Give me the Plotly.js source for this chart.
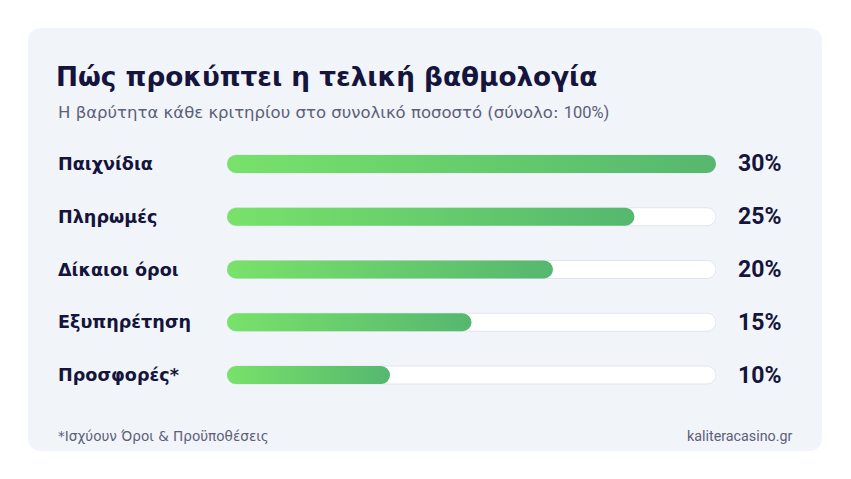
<!DOCTYPE html>
<html>
<head>
<meta charset="utf-8">
<script src="https://cdn.plot.ly/plotly-3.0.1.min.js"></script>
<style>
html,body{margin:0;padding:0;background:#ffffff;}
#chart{width:851px;height:479px;}
</style>
</head>
<body>
<div id="chart"></div>
<script>
// ---- data ----
const categories = ["Παιχνίδια", "Πληρωμές", "Δίκαιοι όροι", "Εξυπηρέτηση", "Προσφορές*"];
const weights = [30, 25, 20, 15, 10];
const trackMax = [30, 30, 30, 30, 30];
const titleText = "Πώς προκύπτει η τελική βαθμολογία";
const subtitleGreek = "Η βαρύτητα κάθε κριτηρίου στο συνολικό ποσοστό (σύνολο: ";
const subtitleLatin = "100%)";
const footnoteText = "*Ισχύουν Όροι & Προϋποθέσεις";
const sourceText = "kaliteracasino.gr";

// ---- geometry helpers (pixel -> paper) ----
const W = 851, H = 479;
const px = v => v / W;
const py = v => 1 - v / H;

function roundedRect(x0, y0, x1, y1, r) {
  const X = px, Y = py;
  return `M ${X(x0 + r)},${Y(y0)} L ${X(x1 - r)},${Y(y0)} Q ${X(x1)},${Y(y0)} ${X(x1)},${Y(y0 + r)} ` +
    `L ${X(x1)},${Y(y1 - r)} Q ${X(x1)},${Y(y1)} ${X(x1 - r)},${Y(y1)} ` +
    `L ${X(x0 + r)},${Y(y1)} Q ${X(x0)},${Y(y1)} ${X(x0)},${Y(y1 - r)} ` +
    `L ${X(x0)},${Y(y0 + r)} Q ${X(x0)},${Y(y0)} ${X(x0 + r)},${Y(y0)} Z`;
}

const navy = "#14143c";
const grey = "#5b6078";
const greekFont = "'DejaVu Sans', sans-serif";
const latinFont = "Roboto, 'Noto Sans', sans-serif";

const rowTop = 137.6, rowBottom = 401.4;
const barPx = 18;
const rowH = (rowBottom - rowTop) / categories.length;
const barWidth = barPx / rowH;

const traces = [
  {
    type: "bar", orientation: "h",
    x: trackMax, y: categories,
    width: barWidth,
    marker: {color: "#ffffff", cornerradius: 9, line: {color: "#e1e5ee", width: 1}},
    hoverinfo: "skip", showlegend: false
  },
  {
    type: "bar", orientation: "h",
    x: weights, y: categories,
    width: barWidth,
    marker: {color: "#66c96c", cornerradius: 9, line: {width: 0}},
    hoverinfo: "skip", showlegend: false
  }
];

const annotations = [];
categories.forEach((c, i) => {
  annotations.push({
    xref: "paper", yref: "y", x: px(56), y: c, xanchor: "left", yanchor: "middle",
    text: "<b>" + c + "</b>", showarrow: false,
    font: {family: greekFont, size: 17.6, color: navy}
  });
  annotations.push({
    xref: "paper", yref: "y", x: px(736), y: c, xanchor: "left", yanchor: "middle",
    text: "<b>" + weights[i] + "%</b>", showarrow: false,
    font: {family: latinFont, size: 23, color: navy}
  });
});
annotations.push({
  xref: "paper", yref: "paper", x: px(56), y: py(112), xanchor: "left", yanchor: "middle",
  text: subtitleGreek + "<span style='font-family:Roboto'>" + subtitleLatin + "</span>",
  showarrow: false, font: {family: greekFont, size: 16.5, color: grey}
});
annotations.push({
  xref: "paper", yref: "paper", x: px(56), y: py(436), xanchor: "left", yanchor: "middle",
  text: footnoteText, showarrow: false, font: {family: greekFont, size: 13.6, color: grey}
});
annotations.push({
  xref: "paper", yref: "paper", x: px(795), y: py(436), xanchor: "right", yanchor: "middle",
  text: sourceText, showarrow: false, font: {family: latinFont, size: 14.3, color: grey}
});

const layout = {
  width: W, height: H,
  margin: {l: 0, r: 0, t: 0, b: 0, pad: 0},
  paper_bgcolor: "#ffffff",
  plot_bgcolor: "rgba(0,0,0,0)",
  barmode: "overlay",
  title: {
    text: "<b>" + titleText + "</b>",
    x: px(56), xanchor: "left", xref: "container",
    y: py(76.5), yanchor: "middle", yref: "container",
    font: {family: greekFont, size: 26.3, color: navy}
  },
  xaxis: {
    domain: [px(227), px(716)], range: [0, 30], visible: false, fixedrange: true
  },
  yaxis: {
    domain: [py(rowBottom), py(rowTop)], type: "category",
    categoryorder: "array", categoryarray: categories,
    range: [categories.length - 0.5, -0.5], visible: false, fixedrange: true
  },
  shapes: [{
    type: "path", xref: "paper", yref: "paper", layer: "below",
    path: roundedRect(28, 28, 822, 451, 14),
    fillcolor: "#f1f4f9", line: {width: 0}
  }],
  annotations: annotations,
  showlegend: false
};

function pillPath(x, y, w, h) {
  const r = Math.min(h / 2, w / 2);
  return `M${x + r},${y}H${x + w - r}A${r},${r} 0 0 1 ${x + w - r},${y + h}H${x + r}A${r},${r} 0 0 1 ${x + r},${y}Z`;
}

Plotly.newPlot("chart", traces, layout, {staticPlot: true, displayModeBar: false}).then(gd => {
  const svg = gd.querySelector("svg.main-svg");
  const NS = "http://www.w3.org/2000/svg";
  let defs = svg.querySelector("defs");
  if (!defs) { defs = document.createElementNS(NS, "defs"); svg.insertBefore(defs, svg.firstChild); }
  const g = document.createElementNS(NS, "linearGradient");
  g.setAttribute("id", "barGrad");
  g.setAttribute("x1", "0"); g.setAttribute("y1", "0");
  g.setAttribute("x2", "1"); g.setAttribute("y2", "0");
  [["0", "#78e26a"], ["1", "#56b76f"]].forEach(([o, c]) => {
    const s = document.createElementNS(NS, "stop");
    s.setAttribute("offset", o); s.setAttribute("stop-color", c);
    g.appendChild(s);
  });
  defs.appendChild(g);
  const traceGroups = gd.querySelectorAll(".barlayer .trace");
  // round both ends of every bar drawn by Plotly (pill shape)
  traceGroups.forEach(tg => {
    tg.querySelectorAll("path").forEach(p => {
      const b = p.getBBox();
      if (b.width > 0 && b.height > 0) p.setAttribute("d", pillPath(b.x, b.y, b.width, b.height));
    });
  });
  const valueGroup = traceGroups[traceGroups.length - 1];
  valueGroup.querySelectorAll("path").forEach(p => { p.style.fill = "url(#barGrad)"; });
});
</script>
</body>
</html>
